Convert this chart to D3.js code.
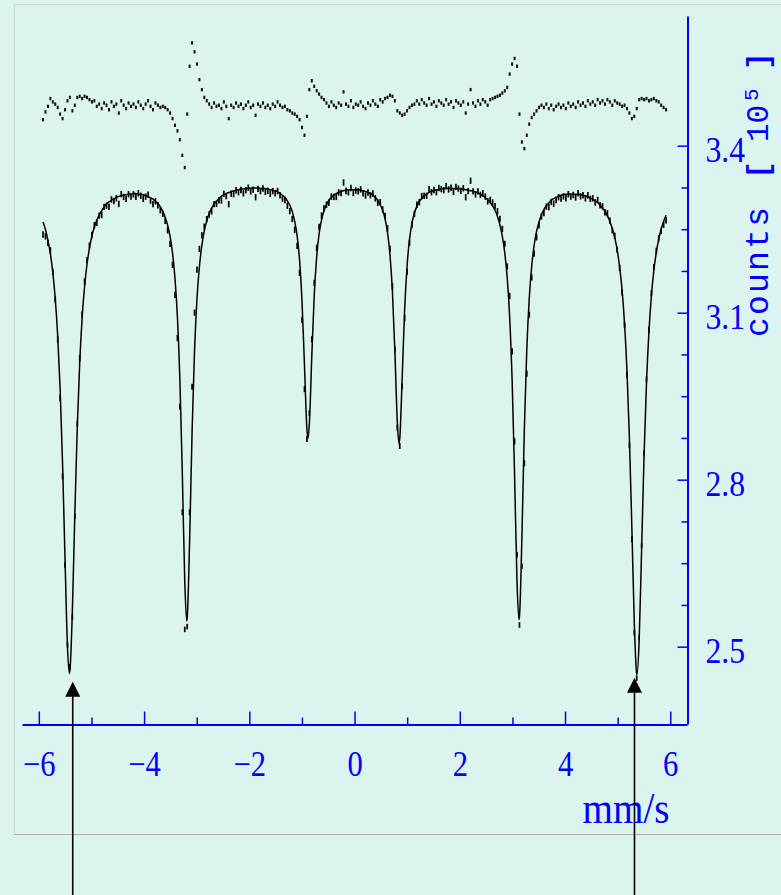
<!DOCTYPE html>
<html>
<head>
<meta charset="utf-8">
<script src="https://cdn.jsdelivr.net/npm/d3@7"></script>
<style>
  html, body { margin: 0; padding: 0; background: rgb(220,244,240); }
  svg { display: block; }
</style>
</head>
<body>
<svg id="chart" width="781" height="895"></svg>
<script>
// Mössbauer spectrum: 256 velocity channels, counts in units of 10^5
const channelFirst = -5.92;   // mm/s
const channelLast = 5.92;     // mm/s
const channelCount = 256;

// fitted transmission curve at each channel (10^5 counts)
const fitCounts = [
  3.263, 3.249, 3.230, 3.206, 3.172, 3.125, 3.058, 2.962, 2.827, 2.656,
  2.500, 2.457, 2.564, 2.737, 2.893, 3.009, 3.091, 3.147, 3.187, 3.216,
  3.238, 3.254, 3.266, 3.276, 3.283, 3.290, 3.295, 3.299, 3.302, 3.305,
  3.307, 3.309, 3.310, 3.311, 3.312, 3.313, 3.313, 3.314, 3.314, 3.313,
  3.313, 3.312, 3.310, 3.309, 3.306, 3.304, 3.300, 3.296, 3.290, 3.282,
  3.271, 3.257, 3.237, 3.207, 3.162, 3.092, 2.981, 2.812, 2.618, 2.551,
  2.692, 2.886, 3.031, 3.125, 3.183, 3.221, 3.247, 3.265, 3.278, 3.288,
  3.295, 3.300, 3.305, 3.309, 3.312, 3.314, 3.316, 3.317, 3.319, 3.320,
  3.321, 3.322, 3.322, 3.323, 3.323, 3.324, 3.324, 3.324, 3.324, 3.323,
  3.323, 3.323, 3.322, 3.321, 3.320, 3.319, 3.317, 3.314, 3.311, 3.307,
  3.301, 3.293, 3.282, 3.264, 3.238, 3.194, 3.120, 3.006, 2.891, 2.901,
  3.022, 3.131, 3.200, 3.242, 3.267, 3.283, 3.294, 3.302, 3.307, 3.311,
  3.314, 3.316, 3.318, 3.319, 3.320, 3.321, 3.321, 3.321, 3.321, 3.321,
  3.320, 3.319, 3.318, 3.316, 3.314, 3.311, 3.307, 3.302, 3.294, 3.284,
  3.268, 3.244, 3.204, 3.138, 3.031, 2.904, 2.874, 2.984, 3.105, 3.184,
  3.232, 3.261, 3.279, 3.291, 3.300, 3.305, 3.310, 3.313, 3.316, 3.318,
  3.319, 3.321, 3.321, 3.322, 3.323, 3.323, 3.323, 3.323, 3.323, 3.323,
  3.323, 3.322, 3.322, 3.321, 3.320, 3.319, 3.318, 3.317, 3.315, 3.313,
  3.310, 3.307, 3.303, 3.298, 3.292, 3.284, 3.273, 3.258, 3.237, 3.207,
  3.162, 3.091, 2.978, 2.809, 2.616, 2.554, 2.697, 2.891, 3.034, 3.125,
  3.183, 3.221, 3.246, 3.263, 3.276, 3.285, 3.292, 3.297, 3.302, 3.305,
  3.307, 3.309, 3.311, 3.312, 3.313, 3.313, 3.313, 3.313, 3.313, 3.313,
  3.312, 3.311, 3.310, 3.308, 3.306, 3.304, 3.301, 3.298, 3.293, 3.288,
  3.282, 3.274, 3.264, 3.251, 3.235, 3.213, 3.182, 3.141, 3.081, 2.996,
  2.875, 2.714, 2.543, 2.451, 2.512, 2.676, 2.843, 2.974, 3.066, 3.130,
  3.176, 3.208, 3.232, 3.250, 3.264, 3.275
];

// fitted line minima [velocity, counts] between channels
const fitMinima = [
  [-5.420, 2.452], [-3.190, 2.546], [-0.885, 2.874],
  [0.844, 2.865], [3.124, 2.549], [5.368, 2.450]
];

// measured minus fitted counts, per channel (units of 150 counts)
const residual = [
  -15, -8, -3, 4, 1, -1, -4, -10, -14, -6,
  2, 5, -7, -2, 5, 6, 4, 6, 5, 3,
  1, 2, -3, -1, -5, 0, -2, -6, 1, -3,
  -1, -9, 2, -2, -5, 0, -3, -1, -4, 1,
  -2, -5, -1, 2, -3, -6, 0, -2, -4, -3,
  -4, -6, -9, -14, -20, -25, -33, -47, -58, -10,
  33, 54, 46, 35, 21, 12, 5, 2, -1, -4,
  0, -3, -2, -5, 1, -3, -14, -2, -4, 0,
  -3, -1, -5, -2, 1, -4, -2, -11, -1, -3,
  0, -4, -2, -5, -1, -3, 1, -2, -4, -3,
  -6, -7, -9, -10, -12, -15, -22, -29, -12, 12,
  20, 15, 11, 8, 5, 3, 0, -3, 1, -2,
  -4, 0, -2, 10, -1, -3, 2, -4, -1, -2,
  1, -3, -5, 0, -2, 2, -1, -3, 3, 1,
  4, 5, 7, 6, 2, -7, -9, -11, -10, -7,
  -4, -2, -1, 2, -1, 3, 0, -2, 4, -1,
  1, -3, 2, 0, -2, 3, -1, 1, -4, 2,
  0, -2, 1, -9, -1, 12, 0, -3, 2, -1,
  3, 1, -2, 3, 4, 5, 6, 7, 9, 11,
  14, 26, 35, 40, 33, -10, -35, -41, -29, -19,
  -13, -10, -7, -4, -2, -4, -1, -5, -2, -6,
  -3, -1, -4, -2, -5, 0, -3, -1, -4, 1,
  -2, 0, -3, 2, -1, 1, -2, 3, 0, 2,
  -1, 3, 1, -2, 2, 0, -1, -3, -2, -5,
  -9, -14, -12, -5, 3, 4, 3, 4, 2, 3,
  4, 2, 1, -2, -4, -6
];
const residualUnit = 0.0015;   // 10^5 counts per residual unit

// residual trace placement: zero level and magnification
const residualZero = 3.4767;
const residualGain = 1.333;

// axis ticks
const xMajorTicks = [-6, -4, -2, 0, 2, 4, 6];
const xMinorTicks = [-5, -3, -1, 1, 3, 5];
const yMajorTicks = [2.5, 2.8, 3.1, 3.4];
const yMinorTicks = [2.575, 2.65, 2.725, 2.875, 2.95, 3.025, 3.175, 3.25, 3.325];

// outer-line markers (velocity, arrow tip level)
const markerVelocities = [-5.356, 5.320];
const markerTips = [2.437, 2.444];

const BLUE = '#0000ff';
const svg = d3.select('#chart');

// background and frame
svg.append('rect').attr('width', 781).attr('height', 895).attr('fill', 'rgb(220,244,240)');
svg.append('path').attr('d', 'M14,4.5H781M14.5,4V834').attr('stroke', '#c9dbd7').attr('stroke-width', 1).attr('fill', 'none');
svg.append('path').attr('d', 'M14,834.5H781').attr('stroke', '#a9b1af').attr('stroke-width', 1.2).attr('fill', 'none');

const x = d3.scaleLinear().domain([-6.32, 6.32]).range([22, 687.1]);
const y = d3.scaleLinear().domain([2.3611, 3.633]).range([724, 16]);
const resY = r => y(residualZero + residualGain * r * residualUnit);

// data
const velocity = d3.range(channelCount).map(i => channelFirst + i * (channelLast - channelFirst) / (channelCount - 1));
const spectrum = velocity.map((v, i) => {
  const c = fitCounts[i] + residual[i] * residualUnit;
  return { v, c, r: residual[i], err: Math.sqrt(c * 1e5) / 1e5 };
});
const fitPoints = velocity.map((v, i) => [v, fitCounts[i]]).concat(fitMinima).sort((a, b) => a[0] - b[0]);

// x axis
const fmt = d => (d < 0 ? '\u2212' + Math.abs(d) : String(d));
const gx = svg.append('g').attr('transform', 'translate(0,724.5)').style('color', BLUE);
gx.call(d3.axisBottom(x).tickValues(xMajorTicks).tickSize(-13).tickSizeOuter(0).tickFormat(fmt));
gx.select('.domain').attr('stroke-width', 2);
gx.selectAll('.tick line').attr('stroke-width', 1.5);
gx.selectAll('.tick text')
  .attr('y', 52).attr('dy', 0)
  .attr('font-family', '"Liberation Serif", serif').attr('font-size', 36)
  .attr('transform', 'scale(0.85,1)');
const gxm = svg.append('g').attr('transform', 'translate(0,724.5)').style('color', BLUE);
gxm.call(d3.axisBottom(x).tickValues(xMinorTicks).tickSize(-7).tickSizeOuter(0).tickFormat(''));
gxm.select('.domain').remove();
gxm.selectAll('.tick line').attr('stroke-width', 1.5);

// y axis (right side)
const gy = svg.append('g').attr('transform', 'translate(687.5,0)').style('color', BLUE);
gy.call(d3.axisRight(y).tickValues(yMajorTicks).tickSize(-10).tickSizeOuter(0).tickFormat(d3.format('.1f')));
gy.select('.domain').attr('stroke-width', 2);
gy.selectAll('.tick line').attr('stroke-width', 1.5);
gy.selectAll('.tick text')
  .attr('x', 20.5).attr('dy', 16)
  .attr('font-family', '"Liberation Serif", serif').attr('font-size', 36)
  .attr('transform', 'scale(0.88,1)');
const gym = svg.append('g').attr('transform', 'translate(687.5,0)').style('color', BLUE);
gym.call(d3.axisRight(y).tickValues(yMinorTicks).tickSize(-6).tickSizeOuter(0).tickFormat(''));
gym.select('.domain').remove();
gym.selectAll('.tick line').attr('stroke-width', 1.5);

// axis titles
svg.append('g').attr('transform', 'translate(582.5,823) scale(0.89,1)')
  .append('text').text('mm/s')
  .attr('font-family', '"Liberation Serif", serif').attr('font-size', 44).attr('fill', BLUE);

const MONO = '"Liberation Mono", monospace';
const yt = svg.append('g').attr('transform', 'translate(768,337) rotate(-90)').attr('fill', BLUE);
yt.append('text').text('counts').attr('x', 0).attr('y', 0)
  .attr('font-family', MONO).attr('font-size', 33)
  .attr('textLength', 130).attr('lengthAdjust', 'spacing');
yt.append('text').text('[').attr('x', 158).attr('y', 0)
  .attr('font-family', MONO).attr('font-weight', 'bold').attr('font-size', 30);
yt.append('text').text('10').attr('x', 195).attr('y', 0)
  .attr('font-family', MONO).attr('font-size', 31);
yt.append('text').text('5').attr('x', 236).attr('y', -10)
  .attr('font-family', MONO).attr('font-size', 21);
yt.append('text').text(']').attr('x', 267).attr('y', 0)
  .attr('font-family', MONO).attr('font-weight', 'bold').attr('font-size', 30);

// fitted curve
svg.append('path')
  .datum(fitPoints)
  .attr('d', d3.line().x(d => x(d[0])).y(d => y(d[1])).curve(d3.curveMonotoneX))
  .attr('fill', 'none').attr('stroke', '#000').attr('stroke-width', 1.5);

// measured counts with statistical error bars
svg.append('g').selectAll('line').data(spectrum).join('line')
  .attr('x1', d => x(d.v)).attr('x2', d => x(d.v))
  .attr('y1', d => y(d.c + d.err)).attr('y2', d => y(d.c - d.err))
  .attr('stroke', '#000').attr('stroke-width', 1.7);

// residual trace
svg.append('g').selectAll('rect').data(spectrum).join('rect')
  .attr('x', d => x(d.v) - 1).attr('y', d => resY(d.r) - 1.7)
  .attr('width', 2).attr('height', 3.4).attr('fill', '#111');

// arrows marking the outer lines
const arrows = svg.append('g');
markerVelocities.forEach((v, i) => {
  const ax = x(v), tip = y(markerTips[i]);
  arrows.append('line').attr('x1', ax).attr('x2', ax).attr('y1', 895).attr('y2', tip + 10)
    .attr('stroke', '#000').attr('stroke-width', 1.6);
  arrows.append('path')
    .attr('d', `M${ax},${tip}L${ax - 7.5},${tip + 15}L${ax + 7.5},${tip + 15}Z`)
    .attr('fill', '#000');
});
</script>
</body>
</html>
